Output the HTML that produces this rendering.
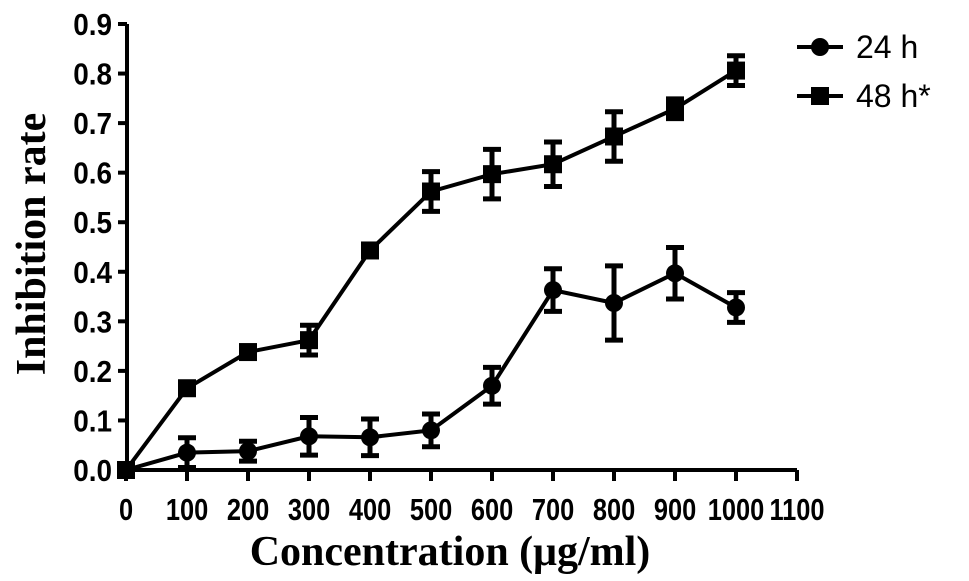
<!DOCTYPE html>
<html><head><meta charset="utf-8"><style>body{margin:0;background:#fff}svg{display:block}</style></head>
<body>
<svg id="chart" width="969" height="581" xmlns="http://www.w3.org/2000/svg"></svg>
<script>
const xCats=[0,100,200,300,400,500,600,700,800,900,1000];
const v24=[0,0.035,0.038,0.068,0.066,0.08,0.17,0.363,0.337,0.397,0.328];
const e24=[0,0.03,0.02,0.038,0.037,0.033,0.037,0.043,0.075,0.052,0.03];
const v48=[0,0.165,0.238,0.262,0.443,0.562,0.597,0.617,0.673,0.729,0.806];
const e48=[0,0.01,0.01,0.03,0.01,0.04,0.05,0.045,0.05,0.02,0.03];
const xTicks=[0,100,200,300,400,500,600,700,800,900,1000,1100];
const yTicks=[0,0.1,0.2,0.3,0.4,0.5,0.6,0.7,0.8,0.9];
const NS='http://www.w3.org/2000/svg',svg=document.getElementById('chart');
const X=v=>126+v*0.61;
function Yf(v){return 470-v*(446/0.9);}
function mk(t,a,p){const e=document.createElementNS(NS,t);for(const k in a)e.setAttribute(k,a[k]);(p||svg).appendChild(e);return e;}
const ax=mk('g',{stroke:'#000','stroke-width':4,fill:'none'});


mk('path',{d:`M127 ${Yf(0.9)} V470 H${X(1100)}`},ax);
yTicks.forEach(t=>{mk('line',{x1:118,x2:127,y1:Yf(t),y2:Yf(t)},ax);
 const l=mk('text',{x:0,y:0,transform:`translate(112,${Yf(t)+11}) scale(0.9,1)`,'text-anchor':'end','font-family':'Liberation Sans, sans-serif','font-weight':'bold','font-size':31});l.textContent=t.toFixed(1);
 
 });
xTicks.forEach(t=>{mk('line',{x1:X(t),x2:X(t),y1:470,y2:481},ax);
 const l=mk('text',{x:0,y:0,transform:`translate(${X(t)},520) scale(0.82,1)`,'text-anchor':'middle','font-family':'Liberation Sans, sans-serif','font-weight':'bold','font-size':31});l.textContent=t;
 
 });
function series(vals,errs,shape,name){
 const g=mk('g',{});
 
 
 mk('polyline',{points:vals.map((v,i)=>X(xCats[i])+','+Yf(v)).join(' '),fill:'none',stroke:'#000','stroke-width':4},g);
 vals.forEach((v,i)=>{const x=X(xCats[i]);
  if(errs[i]>0){const t=Yf(v+errs[i]),b=Yf(v-errs[i]);
   mk('path',{d:`M${x} ${t}V${b}M${x-9} ${t}H${x+9}M${x-9} ${b}H${x+9}`,stroke:'#000','stroke-width':5,fill:'none'},g);}
  if(shape==='c')mk('circle',{cx:x,cy:Yf(v),r:9},g);else mk('rect',{x:x-9,y:Yf(v)-9,width:18,height:18},g);});
}
series(v24,e24,'c','series-24h');
series(v48,e48,'s','series-48h');
const lg=mk('g',{});


mk('line',{x1:797,x2:843,y1:47,y2:47,stroke:'#000','stroke-width':4},lg);
mk('circle',{cx:820,cy:47,r:9},lg);
let t=mk('text',{x:856,y:58,'font-family':'Liberation Sans, sans-serif','font-size':32},lg);t.textContent='24 h';
mk('line',{x1:797,x2:843,y1:96,y2:96,stroke:'#000','stroke-width':4},lg);
mk('rect',{x:811,y:87,width:18,height:18},lg);
t=mk('text',{x:856,y:107,'font-family':'Liberation Sans, sans-serif','font-size':32},lg);t.textContent='48 h*';
t=mk('text',{x:450,y:565,'text-anchor':'middle','font-family':'Liberation Serif, serif','font-weight':'bold','font-size':42});t.textContent='Concentration (μg/ml)';


t=mk('text',{x:0,y:0,'text-anchor':'middle','font-family':'Liberation Serif, serif','font-weight':'bold','font-size':42,transform:'translate(45,244) rotate(-90)'});t.textContent='Inhibition rate';


</script>
</body></html>
